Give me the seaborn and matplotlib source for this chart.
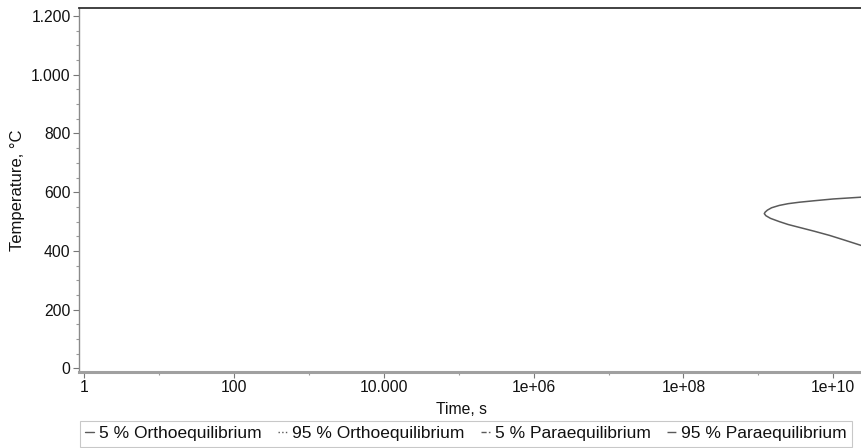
import numpy as np
import pandas as pd
import matplotlib
matplotlib.use("Agg")
import matplotlib.pyplot as plt
from matplotlib.lines import Line2D
from matplotlib.ticker import FixedLocator, NullFormatter, MultipleLocator
import seaborn as sns

# C-curve (5 % Orthoequilibrium): upper branch from the right towards the nose, then lower branch
time_s = [3.98e10, 2.34e10, 1.0e10, 5.6e9, 3.55e9, 2.5e9, 1.9e9, 1.5e9, 1.32e9, 1.23e9, 1.2e9,
          1.26e9, 1.45e9, 1.9e9, 2.5e9, 3.55e9, 5.6e9, 8.9e9, 1.41e10, 2.34e10, 3.98e10]
temp_c = [587, 583, 577, 571, 566, 561, 555, 547, 539, 532, 527,
          520, 511, 500, 490, 480, 467, 453, 437, 419, 400]

series_names = ["5 % Orthoequilibrium", "95 % Orthoequilibrium",
                "5 % Paraequilibrium", "95 % Paraequilibrium"]
series_styles = ["-", ":", "--", "-."]

x_ticks = [1, 1e2, 1e4, 1e6, 1e8, 1e10]
x_tick_labels = ["1", "100", "10.000", "1e+06", "1e+08", "1e+10"]
y_ticks = [0, 200, 400, 600, 800, 1000, 1200]
y_tick_labels = ["0", "200", "400", "600", "800", "1.000", "1.200"]

sns.set_theme(style="white")
plt.rcParams["font.family"] = ["Liberation Sans", "DejaVu Sans"]
FS_TICK = 11.3
FS_LABEL = 11.3
FS_LEG = 12.5

fig = plt.figure(figsize=(8.62, 4.48), dpi=100)
W, H = 862, 448
left, right, top, bottom = 79, 885, 8, 372
ax = fig.add_axes([left / W, 1 - bottom / H, (right - left) / W, (bottom - top) / H])

df = pd.DataFrame({"time": time_s, "temp": temp_c, "series": series_names[0]})
sns.lineplot(data=df, x="time", y="temp", sort=False, estimator=None,
             color="#5a5a5a", linewidth=1.1, ax=ax, legend=False)

ax.set_xscale("log")
ax.set_xlim(0.857, 10 ** 10.69)
ax.set_ylim(-12, 1227)

ax.xaxis.set_major_locator(FixedLocator(x_ticks))
ax.set_xticklabels(x_tick_labels)
ax.xaxis.set_minor_locator(FixedLocator([10.0 ** k for k in range(0, 12)]))
ax.xaxis.set_minor_formatter(NullFormatter())
ax.yaxis.set_major_locator(FixedLocator(y_ticks))
ax.set_yticklabels(y_tick_labels)
ax.yaxis.set_minor_locator(MultipleLocator(50))

ax.tick_params(axis="both", which="major", length=4, width=0.8, color="#777777",
               labelsize=FS_TICK, labelcolor="#111111", pad=2, bottom=True, left=True)
ax.tick_params(axis="both", which="minor", length=2.5, width=0.8, color="#999999",
               bottom=True, left=True)

ax.spines["left"].set_color("#8a8a8a")
ax.spines["left"].set_linewidth(1.0)
ax.spines["top"].set_color("#333333")
ax.spines["top"].set_linewidth(1.3)
ax.spines["bottom"].set_color("#a0a0a0")
ax.spines["bottom"].set_linewidth(2.2)
ax.spines["right"].set_visible(False)

ax.set_xlabel("Time, s", fontsize=FS_LABEL, color="#111111")
ax.xaxis.set_label_coords((462 - left) / (right - left), -(409 - bottom) / (bottom - top))
ax.xaxis.label.set_verticalalignment("center")
ax.set_ylabel("Temperature, °C", fontsize=FS_LABEL + 0.7, color="#111111")
ax.yaxis.set_label_coords(-(left - 18) / (right - left), 0.5)
ax.yaxis.label.set_verticalalignment("center")

handles = [Line2D([], [], color="#5a5a5a", linestyle=ls, linewidth=1.0) for ls in series_styles]
leg = fig.legend(handles, series_names, loc="upper left",
                 bbox_to_anchor=(80 / W, 1 - 421 / H), ncol=4, fontsize=FS_LEG,
                 handlelength=0.5, handletextpad=0.3, columnspacing=0.95,
                 frameon=True, fancybox=False, borderpad=0.3, borderaxespad=0)
leg.get_frame().set_edgecolor("#bbbbbb")
leg.get_frame().set_linewidth(0.8)
for t in leg.get_texts():
    t.set_color("#111111")

fig.savefig("out.png", dpi=100)
